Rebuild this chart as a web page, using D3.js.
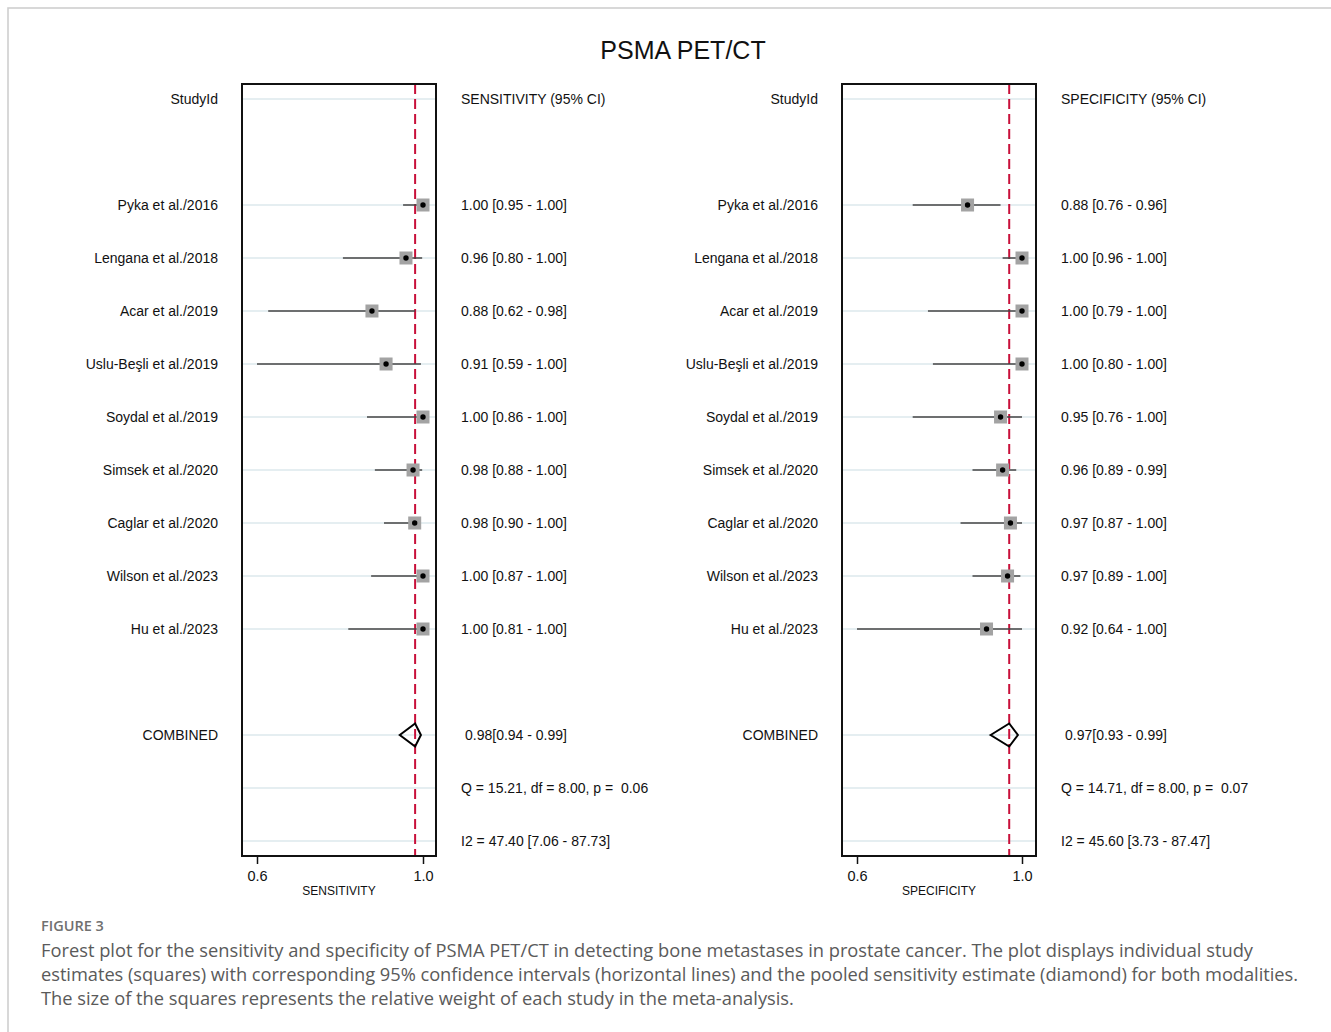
<!DOCTYPE html>
<html>
<head>
<meta charset="utf-8">
<script src="https://cdn.jsdelivr.net/npm/d3@7/dist/d3.min.js"></script>
<style>
  html, body { margin: 0; padding: 0; background: #fff; }
  svg { display: block; }
  text { white-space: pre; }
</style>
</head>
<body>
<svg id="chart" width="1331" height="1032"></svg>
<script>
// ---------------- DATA ----------------
const title = "PSMA PET/CT";
const studies = ["Pyka et al./2016", "Lengana et al./2018", "Acar et al./2019", "Uslu-Beşli et al./2019",
  "Soydal et al./2019", "Simsek et al./2020", "Caglar et al./2020", "Wilson et al./2023", "Hu et al./2023"];

const sensEst = [1.00, 0.959, 0.877, 0.911, 1.00, 0.976, 0.98, 1.00, 1.00];
const sensLo  = [0.952, 0.807, 0.627, 0.60, 0.865, 0.884, 0.906, 0.875, 0.82];
const sensHi  = [1.00, 0.998, 0.981, 0.995, 0.998, 0.998, 0.993, 1.00, 1.00];
const sensText = ["1.00 [0.95 - 1.00]", "0.96 [0.80 - 1.00]", "0.88 [0.62 - 0.98]", "0.91 [0.59 - 1.00]",
  "1.00 [0.86 - 1.00]", "0.98 [0.88 - 1.00]", "0.98 [0.90 - 1.00]", "1.00 [0.87 - 1.00]", "1.00 [0.81 - 1.00]"];

const specEst = [0.868, 1.00, 1.00, 1.00, 0.948, 0.953, 0.972, 0.965, 0.914];
const specLo  = [0.735, 0.953, 0.772, 0.784, 0.735, 0.88, 0.851, 0.88, 0.60];
const specHi  = [0.948, 1.00, 1.00, 1.00, 1.00, 0.986, 1.00, 0.996, 1.00];
const specText = ["0.88 [0.76 - 0.96]", "1.00 [0.96 - 1.00]", "1.00 [0.79 - 1.00]", "1.00 [0.80 - 1.00]",
  "0.95 [0.76 - 1.00]", "0.96 [0.89 - 0.99]", "0.97 [0.87 - 1.00]", "0.97 [0.89 - 1.00]", "0.92 [0.64 - 1.00]"];

const sensPooled = [0.981, 0.944, 0.995];   // estimate, lo, hi
const specPooled = [0.969, 0.924, 0.990];
const sensPooledText = "0.98[0.94 - 0.99]";
const specPooledText = "0.97[0.93 - 0.99]";
const sensStats = ["Q = 15.21, df = 8.00, p =  0.06", "I2 = 47.40 [7.06 - 87.73]"];
const specStats = ["Q = 14.71, df = 8.00, p =  0.07", "I2 = 45.60 [3.73 - 87.47]"];

const xTicks = [0.6, 1.0];
const xTickLabels = ["0.6", "1.0"];
const panelNames = ["SENSITIVITY", "SPECIFICITY"];
const headerLeft = "StudyId";
const combinedLabel = "COMBINED";

const figLabel = "FIGURE 3";
const captionLines = [
  "Forest plot for the sensitivity and specificity of PSMA PET/CT in detecting bone metastases in prostate cancer. The plot displays individual study",
  "estimates (squares) with corresponding 95% confidence intervals (horizontal lines) and the pooled sensitivity estimate (diamond) for both modalities.",
  "The size of the squares represents the relative weight of each study in the meta-analysis."
];

// ---------------- DRAW ----------------
const svg = d3.select("#chart");
const FONT = "'Liberation Sans', Arial, Helvetica, sans-serif";

// outer frame
svg.append("rect").attr("x", 8).attr("y", 8).attr("width", 1340).attr("height", 1040)
  .attr("fill", "none").attr("stroke", "#cfcfcf").attr("stroke-width", 1.6);

svg.append("text").attr("x", 683).attr("y", 59).attr("text-anchor", "middle")
  .attr("font-family", FONT).attr("font-size", 25).attr("fill", "#111").text(title);

// row scale: 0 header, 1 blank, 2..10 studies, 11 blank, 12 combined, 13 Q, 14 I2
const y = d3.scaleLinear().domain([0, 14]).range([99, 841]);
const gridRows = [0, 2, 3, 4, 5, 6, 7, 8, 9, 10, 12, 13, 14];

const panels = [
  { labelX: 218, boxL: 242, boxR: 436, r0: 257, r1: 423, valX: 461, header: "SENSITIVITY (95% CI)",
    est: sensEst, lo: sensLo, hi: sensHi, txt: sensText, pooled: sensPooled, pooledText: sensPooledText,
    stats: sensStats, name: panelNames[0] },
  { labelX: 818, boxL: 842, boxR: 1036, r0: 857, r1: 1022, valX: 1061, header: "SPECIFICITY (95% CI)",
    est: specEst, lo: specLo, hi: specHi, txt: specText, pooled: specPooled, pooledText: specPooledText,
    stats: specStats, name: panelNames[1] }
];

const boxTop = 84, boxBot = 856;

panels.forEach(p => {
  const x = d3.scaleLinear().domain([0.6, 1.0]).range([p.r0, p.r1]);
  const g = svg.append("g");

  // gridlines
  g.selectAll("line.grid").data(gridRows).enter().append("line")
    .attr("x1", p.boxL).attr("x2", p.boxR).attr("y1", d => y(d)).attr("y2", d => y(d))
    .attr("stroke", "#e5eef1").attr("stroke-width", 1.8);

  // pooled reference line
  g.append("line").attr("x1", x(p.pooled[0])).attr("x2", x(p.pooled[0]))
    .attr("y1", boxTop).attr("y2", boxBot)
    .attr("stroke", "#c8103a").attr("stroke-width", 2).attr("stroke-dasharray", "10,5");

  // CI lines
  const idx = d3.range(studies.length);
  g.selectAll("line.ci").data(idx).enter().append("line")
    .attr("x1", i => x(p.lo[i])).attr("x2", i => x(p.hi[i]))
    .attr("y1", i => y(i + 2)).attr("y2", i => y(i + 2))
    .attr("stroke", "#444").attr("stroke-width", 1.5);

  // squares
  const s = 13;
  g.selectAll("rect.sq").data(idx).enter().append("rect")
    .attr("x", i => x(p.est[i]) - s / 2).attr("y", i => y(i + 2) - s / 2)
    .attr("width", s).attr("height", s).attr("fill", "#a3a3a3");
  g.selectAll("circle.pt").data(idx).enter().append("circle")
    .attr("cx", i => x(p.est[i])).attr("cy", i => y(i + 2)).attr("r", 2.7).attr("fill", "#000");

  // diamond
  const yc = y(12), hh = 11.5;
  g.append("path")
    .attr("d", `M${x(p.pooled[1])},${yc} L${x(p.pooled[0])},${yc - hh} L${x(p.pooled[2])},${yc} L${x(p.pooled[0])},${yc + hh} Z`)
    .attr("fill", "none").attr("stroke", "#000").attr("stroke-width", 2).attr("stroke-linejoin", "miter");

  // box
  g.append("rect").attr("x", p.boxL).attr("y", boxTop).attr("width", p.boxR - p.boxL).attr("height", boxBot - boxTop)
    .attr("fill", "none").attr("stroke", "#111").attr("stroke-width", 2);

  // x axis
  const axis = d3.axisBottom(x).tickValues(xTicks).tickSize(8).tickFormat((d, i) => xTickLabels[i]);
  const ag = g.append("g").attr("transform", `translate(0,${boxBot})`).call(axis);
  ag.select(".domain").remove();
  ag.selectAll(".tick line").attr("stroke", "#111").attr("stroke-width", 1.5);
  ag.selectAll(".tick text").attr("font-family", FONT).attr("font-size", 14.5).attr("fill", "#111")
    .attr("dy", null).attr("y", 25);
  g.append("text").attr("x", (p.boxL + p.boxR) / 2).attr("y", 895).attr("text-anchor", "middle")
    .attr("font-family", FONT).attr("font-size", 12).attr("fill", "#111").text(p.name);

  // left labels
  const t = g.append("g").attr("font-family", FONT).attr("font-size", 14).attr("fill", "#111");
  t.append("text").attr("x", p.labelX).attr("y", y(0)).attr("dy", "0.35em").attr("text-anchor", "end").text(headerLeft);
  t.selectAll("text.st").data(studies).enter().append("text")
    .attr("x", p.labelX).attr("y", (d, i) => y(i + 2)).attr("dy", "0.35em").attr("text-anchor", "end").text(d => d);
  t.append("text").attr("x", p.labelX).attr("y", y(12)).attr("dy", "0.35em").attr("text-anchor", "end").text(combinedLabel);

  // right values
  t.append("text").attr("x", p.valX).attr("y", y(0)).attr("dy", "0.35em").text(p.header);
  t.selectAll("text.v").data(p.txt).enter().append("text")
    .attr("x", p.valX).attr("y", (d, i) => y(i + 2)).attr("dy", "0.35em").text(d => d);
  t.append("text").attr("x", p.valX + 4).attr("y", y(12)).attr("dy", "0.35em").text(p.pooledText);
  t.append("text").attr("x", p.valX).attr("y", y(13)).attr("dy", "0.35em").text(p.stats[0]);
  t.append("text").attr("x", p.valX).attr("y", y(14)).attr("dy", "0.35em").text(p.stats[1]);
});

// caption
svg.append("text").attr("x", 41).attr("y", 931).attr("font-family", "'Open Sans', 'Noto Sans', sans-serif")
  .attr("font-size", 14.5).attr("font-weight", 600).attr("fill", "#707070").text(figLabel);

const capTargets = [1213, 1257, 750];
const cap = svg.append("g").attr("font-family", "'Open Sans', 'Noto Sans', sans-serif").attr("fill", "#5a5a5a");
const capText = cap.selectAll("text").data(captionLines).enter().append("text")
  .attr("x", 41).attr("y", (d, i) => 957 + i * 24).attr("font-size", 17).text(d => d);
// fit font size to first line width
const w0 = capText.nodes()[0].getComputedTextLength();
const fs = 17 * capTargets[0] / w0;
capText.attr("font-size", fs);
capText.each(function(d, i) {
  const w = this.getComputedTextLength();
  if (Math.abs(w - capTargets[i]) > 3) d3.select(this).attr("textLength", capTargets[i]).attr("lengthAdjust", "spacing");
});
</script>
</body>
</html>
